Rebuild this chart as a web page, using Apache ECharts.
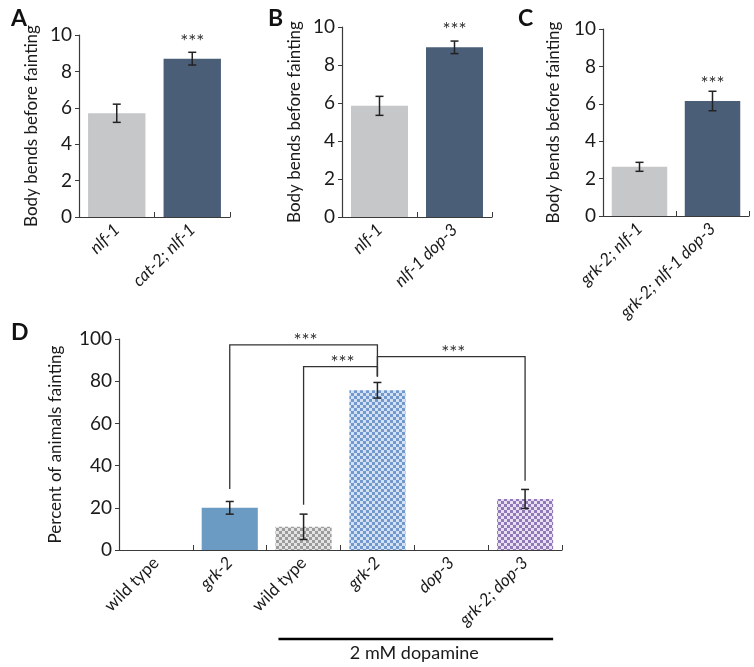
<!DOCTYPE html>
<html><head><meta charset="utf-8">
<script src="https://cdn.jsdelivr.net/npm/echarts@6/dist/echarts.min.js"></script>
<style>html,body{margin:0;padding:0;background:#fff}#c{width:754px;height:667px}</style>
</head><body><div id="c"></div>
<script>
// ---- data ----
const catsA = ['nlf-1', 'cat-2; nlf-1'];
const valsA = [5.7, 8.7];
const errA = [0.5, 0.35];
const sigA = ['', '***'];

const catsB = ['nlf-1', 'nlf-1 dop-3'];
const valsB = [5.85, 8.93];
const errB = [0.5, 0.33];
const sigB = ['', '***'];

const catsC = ['grk-2; nlf-1', 'grk-2; nlf-1 dop-3'];
const valsC = [2.63, 6.15];
const errC = [0.24, 0.52];
const sigC = ['', '***'];

const catsD = ['wild type', 'grk-2', 'wild type', 'grk-2', 'dop-3', 'grk-2; dop-3'];
const italicD = [false, true, false, true, true, true];
const valsD = [0, 20, 11, 75.7, 0, 24.2];
const errD = [0, 3, 6, 3.7, 0, 4.5];
// bracket: [fromIdx, toIdx, level, fromEnd, toEnd]
const bracketsD = [[1, 3, 97.2, 28.9, 82.2], [2, 3, 86.9, 21.4, 82.2], [3, 5, 91.6, 82.2, 32.8]];
const bracketSig = ['***', '***', '***'];
const treatmentLabel = '2 mM dopamine';
const treatmentRange = [2, 5];

const yTicksABC = { min: 0, max: 10, interval: 2 };
const yTicksD = { min: 0, max: 100, interval: 20 };

// ---- styling ----
const FONT = 'Lato';
const LIGHT = '#c6c7c9';
const DARK = '#4b5e77';
const SOLIDBLUE = '#6b9bc2';
const SIGFONT = 19;

function checker(dark, light) {
  const c = document.createElement('canvas');
  c.width = 6; c.height = 6;
  const g = c.getContext('2d');
  g.fillStyle = light; g.fillRect(0, 0, 6, 6);
  g.fillStyle = dark; g.fillRect(0, 0, 3, 3); g.fillRect(3, 3, 3, 3);
  return { image: c, repeat: 'repeat' };
}
const colorsD = [
  SOLIDBLUE, SOLIDBLUE,
  checker('#9c9c9c', '#e4e4e4'),
  checker('#7298cc', '#d2e1f4'),
  '#fff',
  checker('#9079b6', '#e8e0f2')
];

const chart = echarts.init(document.getElementById('c'), null, { renderer: 'canvas' });

const grids = [
  { left: 79, top: 35, width: 151, height: 182 },
  { left: 342, top: 27, width: 150, height: 190 },
  { left: 603, top: 29, width: 146, height: 187 },
  { left: 119, top: 339, width: 443, height: 211 }
];

function xAxisFor(i, cats, italics) {
  return {
    type: 'category', gridIndex: i,
    data: cats.map((c, k) => ({ value: c, textStyle: { fontStyle: (italics ? italics[k] : true) ? 'italic' : 'normal' } })),
    axisLine: { lineStyle: { color: '#3a3a3a', width: 1.2 } },
    axisTick: { show: true, inside: true, length: 5, lineStyle: { color: '#3a3a3a' } },
    axisLabel: { rotate: 45, interval: 0, margin: 10, color: '#1a1a1a', fontFamily: FONT, fontSize: 17 }
  };
}
function yAxisFor(i, t, name, gap) {
  return {
    type: 'value', gridIndex: i, min: t.min, max: t.max, interval: t.interval,
    name: name, nameLocation: 'middle', nameGap: gap,
    nameTextStyle: { color: '#1a1a1a', fontFamily: FONT, fontSize: 17 },
    axisLine: { show: true, lineStyle: { color: '#3a3a3a', width: 1.2 } },
    axisTick: { show: true, length: 4, lineStyle: { color: '#3a3a3a' } },
    axisLabel: { color: '#1a1a1a', fontFamily: FONT, fontSize: 19, margin: 7 },
    splitLine: { show: false }
  };
}

function barSeries(i, vals, colorFn) {
  return {
    type: 'bar', xAxisIndex: i, yAxisIndex: i, barCategoryGap: '24%',
    data: vals.map((v, k) => ({ value: v, itemStyle: { color: colorFn(k) } })),
    silent: true, animation: false
  };
}

function errSeries(i, vals, errs, sigs, sigOffset) {
  return {
    type: 'custom', xAxisIndex: i, yAxisIndex: i, animation: false, silent: true, z: 5,
    data: vals.map((v, k) => [k, v, errs[k], k]),
    renderItem: function (params, api) {
      const k = api.value(0), v = api.value(1), e = api.value(2);
      const children = [];
      if (e > 0) {
        const top = api.coord([k, v + e]);
        const bot = api.coord([k, v - e]);
        const cw = 4;
        const st = { stroke: '#222', lineWidth: 1.5 };
        children.push({ type: 'line', shape: { x1: top[0], y1: top[1], x2: bot[0], y2: bot[1] }, style: st });
        children.push({ type: 'line', shape: { x1: top[0] - cw, y1: top[1], x2: top[0] + cw, y2: top[1] }, style: st });
        children.push({ type: 'line', shape: { x1: bot[0] - cw, y1: bot[1], x2: bot[0] + cw, y2: bot[1] }, style: st });
        const s = sigs ? sigs[api.value(3)] : '';
        if (s) {
          children.push({ type: 'text', style: { text: s, x: top[0], y: top[1] - sigOffset + SIGFONT * 0.22, align: 'center', verticalAlign: 'middle', fill: '#333', font: SIGFONT + 'px ' + FONT } });
        }
      }
      return { type: 'group', children: children };
    }
  };
}

const series = [
  barSeries(0, valsA, k => k === 0 ? LIGHT : DARK),
  errSeries(0, valsA, errA, sigA, 15),
  barSeries(1, valsB, k => k === 0 ? LIGHT : DARK),
  errSeries(1, valsB, errB, sigB, 15),
  barSeries(2, valsC, k => k === 0 ? LIGHT : DARK),
  errSeries(2, valsC, errC, sigC, 12),
  barSeries(3, valsD, k => colorsD[k]),
  errSeries(3, valsD, errD, null, 0),
  {
    type: 'custom', xAxisIndex: 3, yAxisIndex: 3, animation: false, silent: true, z: 6,
    data: bracketsD.map((b, k) => [b[0], b[1], b[2], b[3], b[4], k]),
    renderItem: function (params, api) {
      const a = api.value(0), b = api.value(1), lv = api.value(2), ea = api.value(3), eb = api.value(4);
      const pA = api.coord([a, lv]), pB = api.coord([b, lv]);
      const eA = api.coord([a, ea]), eB = api.coord([b, eb]);
      const st = { stroke: '#333', lineWidth: 1.3, fill: null };
      return {
        type: 'group', children: [
          { type: 'polyline', shape: { points: [[eA[0], eA[1]], [pA[0], pA[1]], [pB[0], pB[1]], [eB[0], eB[1]]] }, style: st },
          { type: 'text', style: { text: bracketSig[api.value(5)], x: (pA[0] + pB[0]) / 2 + 2, y: pA[1] - 8 + SIGFONT * 0.22, align: 'center', verticalAlign: 'middle', fill: '#333', font: SIGFONT + 'px ' + FONT } }
        ]
      };
    }
  },
  {
    type: 'custom', xAxisIndex: 3, yAxisIndex: 3, animation: false, silent: true,
    data: [[treatmentRange[0], treatmentRange[1]]],
    renderItem: function (params, api) {
      const p0 = api.coord([api.value(0), 0]);
      const p1 = api.coord([api.value(1), 0]);
      const w = api.size([1, 0])[0];
      const y = p0[1] + 89;
      return {
        type: 'group', children: [
          { type: 'line', shape: { x1: p0[0] - w * 0.34, y1: y, x2: p1[0] + w * 0.38, y2: y }, style: { stroke: '#000', lineWidth: 2.5 } },
          { type: 'text', style: { text: treatmentLabel, x: (p0[0] + p1[0]) / 2, y: y + 14, align: 'center', verticalAlign: 'middle', fill: '#1a1a1a', font: '18px ' + FONT } }
        ]
      };
    }
  }
];

chart.setOption({
  animation: false,
  grid: grids,
  xAxis: [xAxisFor(0, catsA), xAxisFor(1, catsB), xAxisFor(2, catsC), xAxisFor(3, catsD, italicD)],
  yAxis: [
    yAxisFor(0, yTicksABC, 'Body bends before fainting', 39),
    yAxisFor(1, yTicksABC, 'Body bends before fainting', 39),
    yAxisFor(2, yTicksABC, 'Body bends before fainting', 41),
    yAxisFor(3, yTicksD, 'Percent of animals fainting', 55)
  ],
  title: [
    { text: 'A', left: 6, top: 2, textStyle: { fontFamily: FONT, fontSize: 23, fontWeight: 'bold', color: '#111' } },
    { text: 'B', left: 263, top: 2, textStyle: { fontFamily: FONT, fontSize: 23, fontWeight: 'bold', color: '#111' } },
    { text: 'C', left: 513, top: 2, textStyle: { fontFamily: FONT, fontSize: 23, fontWeight: 'bold', color: '#111' } },
    { text: 'D', left: 6, top: 316, textStyle: { fontFamily: FONT, fontSize: 23, fontWeight: 'bold', color: '#111' } }
  ],
  series: series
});
</script></body></html>
